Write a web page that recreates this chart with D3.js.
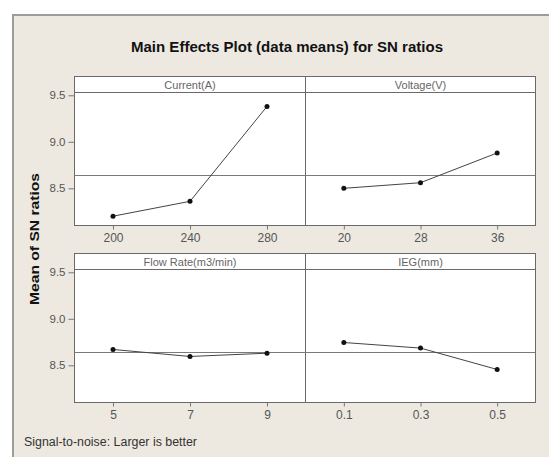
<!DOCTYPE html>
<html>
<head>
<meta charset="utf-8">
<script src="https://cdn.jsdelivr.net/npm/d3@7"></script>
<style>
  html, body { margin: 0; padding: 0; background: #ffffff; }
  svg { display: block; }
</style>
</head>
<body>
<div id="chart"></div>
<script>
// ---- Data ----
const title = "Main Effects Plot (data means) for SN ratios";
const yAxisTitle = "Mean of SN ratios";
const footnote = "Signal-to-noise: Larger is better";
const factorNames = ["Current(A)", "Voltage(V)", "Flow Rate(m3/min)", "IEG(mm)"];
const currentLevels = ["200", "240", "280"];
const currentMeans = [8.20, 8.36, 9.38];
const voltageLevels = ["20", "28", "36"];
const voltageMeans = [8.50, 8.56, 8.88];
const flowLevels = ["5", "7", "9"];
const flowMeans = [8.67, 8.595, 8.63];
const iegLevels = ["0.1", "0.3", "0.5"];
const iegMeans = [8.745, 8.685, 8.455];
const yTicks = [8.5, 9.0, 9.5];
const yDomain = [8.1, 9.53];

const panels = [
  { name: factorNames[0], levels: currentLevels, means: currentMeans, row: 0, col: 0 },
  { name: factorNames[1], levels: voltageLevels, means: voltageMeans, row: 0, col: 1 },
  { name: factorNames[2], levels: flowLevels, means: flowMeans, row: 1, col: 0 },
  { name: factorNames[3], levels: iegLevels, means: iegMeans, row: 1, col: 1 }
];
const grandMean = d3.mean(panels.flatMap(p => p.means));

// ---- Layout ----
const W = 549, H = 457;
const left = 74.5, mid = 305.5, right = 535.5;
const rows = [
  { stripTop: 76.5, stripBottom: 92.5, bottom: 225.5 },
  { stripTop: 253.5, stripBottom: 269.5, bottom: 402.5 }
];
const cols = [[left, mid], [mid, right]];
const font = "'Liberation Sans', Arial, sans-serif";

const svg = d3.select("#chart").append("svg")
  .attr("width", W).attr("height", H);

// background frame
svg.append("rect").attr("x", 0).attr("y", 0).attr("width", W).attr("height", H).attr("fill", "#ffffff");
svg.append("rect")
  .attr("x", 13).attr("y", 15).attr("width", W + 10).attr("height", H + 10)
  .attr("fill", "#ede9e1").attr("stroke", "#9c9c98").attr("stroke-width", 2);

// title
svg.append("text")
  .attr("x", 287).attr("y", 52)
  .attr("text-anchor", "middle")
  .attr("font-family", font).attr("font-weight", "bold").attr("font-size", 14)
  .attr("fill", "#111")
  .attr("textLength", 312).attr("lengthAdjust", "spacingAndGlyphs")
  .text(title);

// rows
rows.forEach((r, ri) => {
  const y = d3.scaleLinear().domain(yDomain).range([r.bottom, r.stripBottom]);
  // panel white area
  svg.append("rect")
    .attr("x", left).attr("y", r.stripTop)
    .attr("width", right - left).attr("height", r.bottom - r.stripTop)
    .attr("fill", "#ffffff").attr("stroke", "#6a6a6a").attr("stroke-width", 1);
  // strip bottom line
  svg.append("line")
    .attr("x1", left).attr("x2", right).attr("y1", r.stripBottom).attr("y2", r.stripBottom)
    .attr("stroke", "#6a6a6a").attr("stroke-width", 1);
  // divider
  svg.append("line")
    .attr("x1", mid).attr("x2", mid).attr("y1", r.stripTop).attr("y2", r.bottom)
    .attr("stroke", "#6a6a6a").attr("stroke-width", 1);
  // mean reference line
  svg.append("line")
    .attr("x1", left).attr("x2", right)
    .attr("y1", Math.round(y(grandMean)) + 0.5).attr("y2", Math.round(y(grandMean)) + 0.5)
    .attr("stroke", "#7a7a7a").attr("stroke-width", 1);

  // y axis
  const yAxis = d3.axisLeft(y).tickValues(yTicks).tickFormat(d3.format(".1f")).tickSize(6).tickPadding(3);
  const ga = svg.append("g").attr("transform", `translate(${left},0)`).call(yAxis);
  ga.select(".domain").remove();
  ga.selectAll(".tick line").attr("stroke", "#777");
  ga.selectAll(".tick text").attr("font-family", font).attr("font-size", 11.5).attr("fill", "#555");
});

panels.forEach(p => {
  const r = rows[p.row];
  const [x0, x1] = cols[p.col];
  const x = d3.scalePoint().domain(p.levels).range([x0, x1]).padding(0.5);
  const y = d3.scaleLinear().domain(yDomain).range([r.bottom, r.stripBottom]);

  // strip label
  svg.append("text")
    .attr("x", (x0 + x1) / 2).attr("y", (r.stripTop + r.stripBottom) / 2 + 4)
    .attr("text-anchor", "middle")
    .attr("font-family", font).attr("font-size", 11).attr("fill", "#666")
    .text(p.name);

  // x axis
  const xAxis = d3.axisBottom(x).tickSize(4).tickPadding(4);
  const gx = svg.append("g").attr("transform", `translate(0,${r.bottom})`).call(xAxis);
  gx.select(".domain").remove();
  gx.selectAll(".tick line").attr("stroke", "#777");
  gx.selectAll(".tick text").attr("font-family", font).attr("font-size", 12).attr("fill", "#555");

  // line
  const line = d3.line().x((d, i) => x(p.levels[i])).y(d => y(d));
  svg.append("path")
    .datum(p.means)
    .attr("d", line)
    .attr("fill", "none").attr("stroke", "#444").attr("stroke-width", 1);
  // points
  svg.selectAll(null).data(p.means).enter().append("circle")
    .attr("cx", (d, i) => x(p.levels[i])).attr("cy", d => y(d))
    .attr("r", 2.5).attr("fill", "#111");
});

// y-axis title
svg.append("text")
  .attr("transform", "translate(39,239) rotate(-90)")
  .attr("text-anchor", "middle")
  .attr("font-family", font).attr("font-weight", "bold").attr("font-size", 12)
  .attr("fill", "#111")
  .attr("textLength", 132).attr("lengthAdjust", "spacingAndGlyphs")
  .text(yAxisTitle);

// footnote
svg.append("text")
  .attr("x", 24).attr("y", 446)
  .attr("font-family", font).attr("font-size", 12).attr("fill", "#333")
  .attr("textLength", 173).attr("lengthAdjust", "spacingAndGlyphs")
  .text(footnote);
</script>
</body>
</html>
